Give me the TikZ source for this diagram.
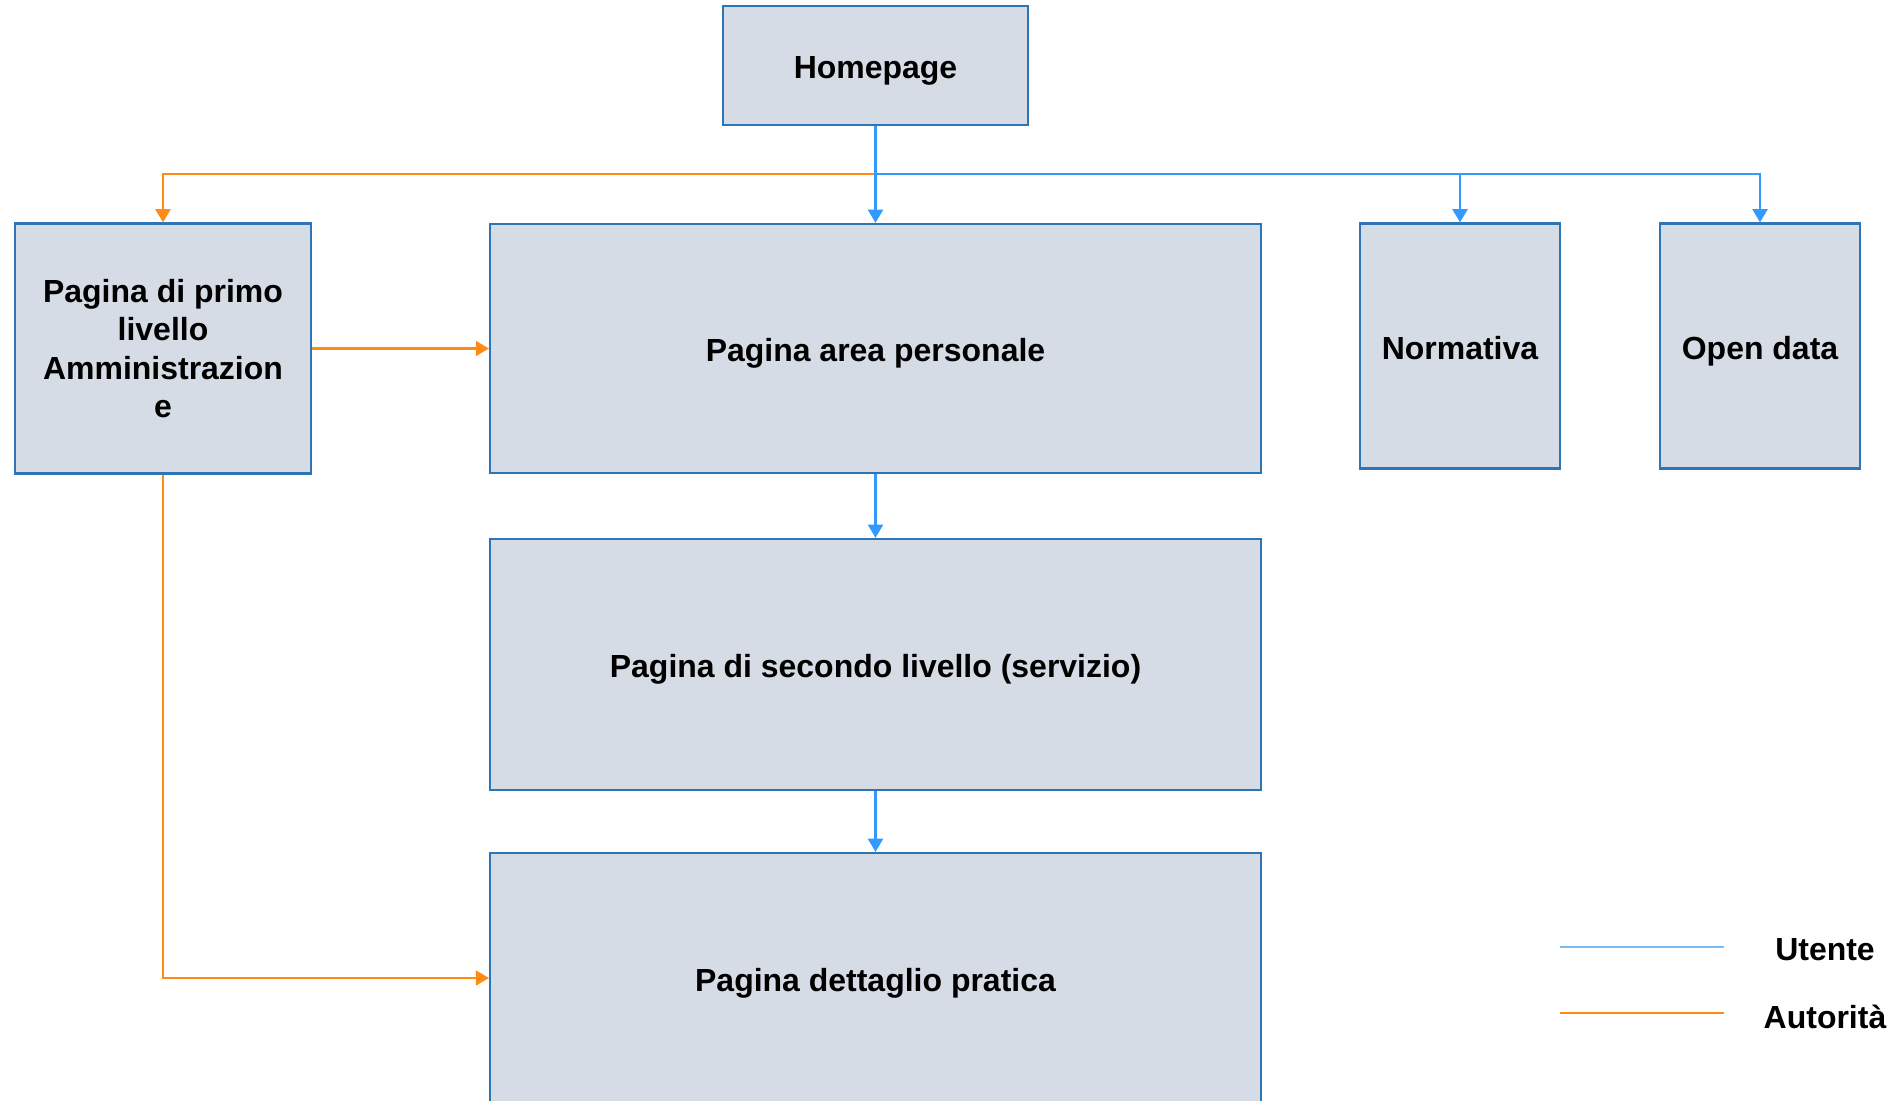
\documentclass[tikz,border=0pt]{standalone}
\usepackage{fontspec}
\setmainfont{Liberation Sans}
\usepackage{xcolor}
\usepackage{tikz}
\usetikzlibrary{arrows.meta}
\definecolor{boxfill}{HTML}{D6DCE5}
\definecolor{boxline}{HTML}{2E75B6}
\definecolor{utente}{HTML}{3399FF}
\definecolor{utentelight}{HTML}{7ABAF5}
\definecolor{autorita}{HTML}{FF8A14}
\tikzset{ page_box/.style = {rectangle, draw=boxline, fill=boxfill, line width=1.3pt, inner sep=0pt, align=center, font=\fontsize{18.2}{21.9}\selectfont\bfseries} }
\tikzset{ one_line/.style = {text height=15.4pt, text depth=0.4pt} }
\tikzset{ utente_arrow/.style = {draw=utente, line width=1.3pt, -{Triangle[length=7.5pt,width=8.5pt]}} }
\tikzset{ autorita_arrow/.style = {draw=autorita, line width=1.3pt, -{Triangle[length=7.5pt,width=8.5pt]}} }
\tikzset{ legend_text/.style = {font=\fontsize{18.2}{21.9}\selectfont\bfseries} }

\begin{document}
\begin{tikzpicture}[x=0.02cm,y=-0.02cm]
        \useasboundingbox (0,0) rectangle (1896,1101);
        \node[page_box, one_line, minimum width=6.1cm, minimum height=2.38cm] (home) at (875.5,65.5) {Homepage};
        \node[page_box, minimum width=5.92cm, minimum height=5cm] (prim) at (163,348.5) {Pagina di primo\\livello\\Amministrazion\\e};
        \node[page_box, one_line, minimum width=15.42cm, minimum height=4.98cm] (area) at (875.5,348.5) {Pagina area personale};
        \node[page_box, one_line, minimum width=4cm, minimum height=4.9cm] (norm) at (1460,346) {Normativa};
        \node[page_box, one_line, minimum width=4cm, minimum height=4.9cm] (open) at (1760,346) {Open data};
        \node[page_box, one_line, minimum width=15.42cm, minimum height=5.02cm] (sec) at (875.5,664.5) {Pagina di secondo livello (servizio)};
        \node[page_box, one_line, minimum width=15.42cm, minimum height=5cm] (det) at (875.5,978) {Pagina dettaglio pratica};
        \coordinate (split) at (875.5,174);
        \draw[autorita_arrow] (split) -| (prim.north);
        \draw[autorita_arrow] (prim.east) -- (prim.east -| area.west);
        \draw[autorita_arrow] (prim.south) |- (det.west);
        \draw[utente_arrow] (home.south) -- (area.north);
        \draw[utente_arrow] (split) -| (norm.north);
        \draw[utente_arrow] (split) -| (open.north);
        \draw[utente_arrow] (area.south) -- (sec.north);
        \draw[utente_arrow] (sec.south) -- (det.north);
        % legenda
        \coordinate (leg_u1) at (1560,947);
        \coordinate (leg_u2) at (1724,947);
        \coordinate (leg_a1) at (1560,1013);
        \coordinate (leg_a2) at (1724,1013);
        \draw[utentelight, line width=0.6pt] (leg_u1) -- (leg_u2);
        \draw[autorita, line width=0.6pt] (leg_a1) -- (leg_a2);
        \node[legend_text] (utente_label) at (1825,950) {Utente};
        \node[legend_text] (autorita_label) at (1825,1017) {Autorità};
        \end{tikzpicture}
\end{document}
